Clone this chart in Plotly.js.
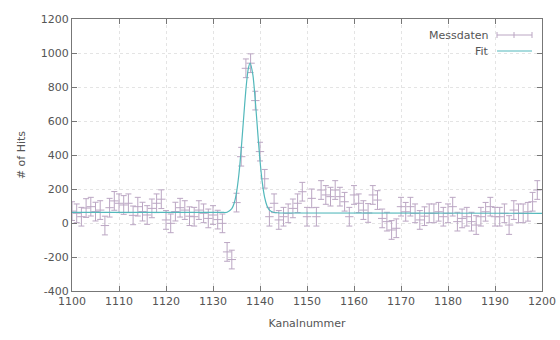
<!DOCTYPE html>
<html>
<head>
<meta charset="utf-8">
<script src="https://cdn.plot.ly/plotly-3.0.1.min.js"></script>
<style>html,body{margin:0;padding:0;background:#fff;}#chart{width:560px;height:340px;}</style>
</head>
<body>
<div id="chart"></div>
<script>
const channels = [1100,1101,1102,1103,1104,1105,1106,1107,1108,1109,
  1110,1111,1112,1113,1114,1115,1116,1117,1118,1119,
  1120,1121,1122,1123,1124,1125,1126,1127,1128,1129,
  1130,1131,1132,1133,1134,1135,1136,1137,1138,1139,
  1140,1141,1142,1143,1144,1145,1146,1147,1148,1149,
  1150,1151,1152,1153,1154,1155,1156,1157,1158,1159,
  1160,1161,1162,1163,1164,1165,1166,1167,1168,1169,
  1170,1171,1172,1173,1174,1175,1176,1177,1178,1179,
  1180,1181,1182,1183,1184,1185,1186,1187,1188,1189,
  1190,1191,1192,1193,1194,1195,1196,1197,1198,1199];
const hits = [70,57,37,88,96,67,76,-15,90,130,
  116,106,116,45,96,67,47,86,116,140,
  18,-2,67,90,76,40,37,76,57,27,
  47,20,-2,-170,-215,120,390,910,940,720,
  420,260,37,116,18,37,57,86,116,184,
  37,145,37,194,165,155,194,155,125,37,
  165,116,76,59,165,135,27,8,-41,-31,
  96,66,96,57,18,40,57,57,66,37,
  57,96,8,27,37,8,-12,37,66,96,
  37,37,57,-12,76,57,57,66,125,194];
const errorBar = 55;
const fitX = [1100,1132,1133,1134,1134.5,1135,1135.5,1136,1136.5,1137,1137.5,1137.9,1138.5,1139,1139.5,1140,1140.5,1141,1141.5,1142,1143,1144,1200];
const fitY = [62,62,63,84,116,179,284,433,612,786,907,940,868,720,539,368,236,149,100,76,62,60,57];
const xTicks = [1100,1110,1120,1130,1140,1150,1160,1170,1180,1190,1200];
const yTicks = [-400,-200,0,200,400,600,800,1000,1200];

const dataColor = '#bba6c3';
const fitColor = '#52b8bb';

const traces = [
  {x: channels, y: hits, type: 'scatter', mode: 'markers', name: 'Messdaten',
   marker: {symbol: 'line-ew', size: 6, color: dataColor, line: {color: dataColor, width: 1}},
   error_y: {type: 'constant', value: errorBar, color: dataColor, thickness: 1, width: 3},
   showlegend: false, cliponaxis: true},
  {x: fitX, y: fitY, type: 'scatter', mode: 'lines', name: 'Fit',
   line: {color: fitColor, width: 1.2, shape: 'spline', smoothing: 0.6},
   showlegend: false}
];

const px = v => (v - 72) / 470;
const py = v => (291 - v) / 272;

const layout = {
  width: 560, height: 340,
  margin: {l: 72, r: 18, t: 19, b: 49},
  paper_bgcolor: '#fff', plot_bgcolor: '#fff',
  font: {family: 'DejaVu Sans, sans-serif', size: 11, color: '#555'},
  xaxis: {range: [1100, 1200], tickvals: xTicks, ticktext: xTicks.map(String),
    ticks: 'inside', ticklen: 5, tickcolor: '#777', showline: true, mirror: 'ticks',
    linecolor: '#777', linewidth: 1, showgrid: true, gridcolor: '#e4e4e4', griddash: 'dot',
    zeroline: false, title: {text: 'Kanalnummer', font: {size: 11, color: '#555'}, standoff: 12}},
  yaxis: {range: [-400, 1200], tickvals: yTicks, ticktext: yTicks.map(String),
    ticks: 'inside', ticklen: 5, tickcolor: '#777', showline: true, mirror: 'ticks',
    linecolor: '#777', linewidth: 1, showgrid: true, gridcolor: '#e4e4e4', griddash: 'dot',
    zeroline: false, title: {text: '# of Hits', font: {size: 11, color: '#555'}, standoff: 12}},
  annotations: [
    {xref: 'paper', yref: 'paper', x: px(491), y: py(35), text: 'Messdaten', showarrow: false,
     xanchor: 'right', yanchor: 'middle', font: {size: 11, color: '#555'}},
    {xref: 'paper', yref: 'paper', x: px(491), y: py(51), text: 'Fit', showarrow: false,
     xanchor: 'right', yanchor: 'middle', font: {size: 11, color: '#555'}}
  ],
  shapes: [
    {type: 'line', xref: 'paper', yref: 'paper', x0: px(497), x1: px(532), y0: py(35), y1: py(35), line: {color: dataColor, width: 1}},
    {type: 'line', xref: 'paper', yref: 'paper', x0: px(497), x1: px(497), y0: py(32), y1: py(38), line: {color: dataColor, width: 1}},
    {type: 'line', xref: 'paper', yref: 'paper', x0: px(532), x1: px(532), y0: py(32), y1: py(38), line: {color: dataColor, width: 1}},
    {type: 'line', xref: 'paper', yref: 'paper', x0: px(514), x1: px(514), y0: py(32), y1: py(38), line: {color: dataColor, width: 1}},
    {type: 'line', xref: 'paper', yref: 'paper', x0: px(497), x1: px(532), y0: py(51), y1: py(51), line: {color: fitColor, width: 1.2}}
  ]
};

Plotly.newPlot('chart', traces, layout, {staticPlot: true, displayModeBar: false});
</script>
</body>
</html>
